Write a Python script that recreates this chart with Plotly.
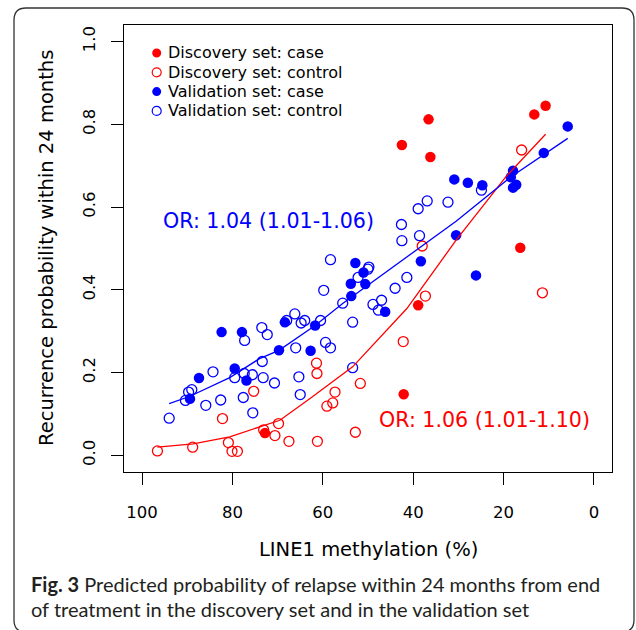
import plotly.graph_objects as go

# ---------------- data ----------------
disc_case_x = [72.8, 42.1, 36.6, 42.5, 36.2, 10.7, 13.2, 16.3, 38.9]
disc_case_p = [0.054, 0.148, 0.812, 0.750, 0.721, 0.845, 0.824, 0.502, 0.363]

disc_ctrl_x = [96.6, 88.8, 80.9, 80.1, 78.9, 82.2, 75.3, 73.1, 70.6, 69.8, 67.5, 61.2,
               61.4, 61.3, 59.1, 57.8, 57.3, 52.8, 51.7, 42.2, 38.0, 37.3, 16.0, 11.4]
disc_ctrl_p = [0.011, 0.020, 0.031, 0.010, 0.010, 0.089, 0.155, 0.062, 0.048, 0.077, 0.034, 0.034,
               0.223, 0.198, 0.119, 0.127, 0.153, 0.056, 0.174, 0.275, 0.506, 0.385, 0.738, 0.393]

val_case_x = [89.4, 87.4, 82.4, 77.9, 79.5, 76.9, 69.7, 68.4, 62.7, 61.7, 53.8, 53.7, 52.8, 51.0,
              50.6, 46.2, 38.3, 30.9, 30.5, 27.9, 26.1, 24.7, 17.9, 18.4, 17.9, 17.2, 11.1, 5.8]
val_case_p = [0.137, 0.187, 0.298, 0.298, 0.210, 0.181, 0.254, 0.322, 0.253, 0.314, 0.415, 0.385,
              0.465, 0.442, 0.414, 0.347, 0.469, 0.667, 0.532, 0.659, 0.435, 0.653, 0.688, 0.672,
              0.647, 0.654, 0.731, 0.795]

val_ctrl_x = [94.0, 90.4, 89.7, 89.0, 85.9, 84.3, 82.6, 77.6, 77.3, 79.5, 77.4, 75.6, 75.5, 73.5,
              72.3, 73.4, 73.2, 70.7, 68.0, 66.2, 66.0, 65.3, 65.0, 64.8, 64.0, 60.5, 59.8, 59.4,
              58.3, 58.3, 55.6, 53.4, 53.4, 52.2, 50.0, 49.8, 48.9, 47.7, 47.0, 44.0, 42.5, 42.6,
              41.4, 38.9, 38.6, 36.9, 32.3, 24.9]
val_ctrl_p = [0.090, 0.133, 0.153, 0.159, 0.121, 0.202, 0.134, 0.140, 0.278, 0.188, 0.198, 0.195,
              0.103, 0.309, 0.292, 0.227, 0.188, 0.175, 0.326, 0.342, 0.260, 0.190, 0.147, 0.320,
              0.326, 0.326, 0.399, 0.273, 0.260, 0.473, 0.368, 0.322, 0.212, 0.430, 0.450, 0.455,
              0.365, 0.351, 0.375, 0.404, 0.519, 0.558, 0.430, 0.596, 0.531, 0.615, 0.612, 0.641]

# fitted curves
disc_fit_x = [96.6, 88.7, 80.6, 74.0, 69.5, 62.9, 53.4, 41.4, 30.5, 19.5, 10.7]
disc_fit_p = [0.020, 0.028, 0.045, 0.068, 0.085, 0.137, 0.214, 0.355, 0.520, 0.673, 0.776]

val_fit_x = [94.0, 89.4, 80.6, 74.0, 69.7, 61.7, 55.6, 45.3, 40.8, 30.5, 18.4, 5.8]
val_fit_p = [0.125, 0.143, 0.188, 0.234, 0.254, 0.314, 0.367, 0.449, 0.486, 0.566, 0.673, 0.766]

x_ticks = [100, 80, 60, 40, 20, 0]
y_ticks = [0.0, 0.2, 0.4, 0.6, 0.8, 1.0]
y_tick_labels = ["0.0", "0.2", "0.4", "0.6", "0.8", "1.0"]

legend_labels = ["Discovery set: case", "Discovery set: control",
                 "Validation set: case", "Validation set: control"]
or_disc = "OR: 1.06 (1.01-1.10)"
or_val = "OR: 1.04 (1.01-1.06)"
x_title = "LINE1 methylation (%)"
y_title = "Recurrence probability within 24 months"
caption1 = "<b>Fig. 3</b> Predicted probability of relapse within 24 months from end"
caption2 = "of treatment in the discovery set and in the validation set"

# ---------------- style ----------------
RED = "#FF0000"
BLUE = "#0000FF"
FONT = "DejaVu Sans"
W, H = 636, 630
L, R, T, B = 124, 24, 25, 158
PW, PH = W - L - R, H - T - B


def px2paper(px, py):
    return (px - L) / PW, (H - B - py) / PH


fig = go.Figure()

fig.add_trace(go.Scatter(x=disc_ctrl_x, y=disc_ctrl_p, mode="markers", name=legend_labels[1],
                         marker=dict(symbol="circle-open", size=10, color=RED, line=dict(width=1.3, color=RED))))
fig.add_trace(go.Scatter(x=val_ctrl_x, y=val_ctrl_p, mode="markers", name=legend_labels[3],
                         marker=dict(symbol="circle-open", size=10, color=BLUE, line=dict(width=1.3, color=BLUE))))
fig.add_trace(go.Scatter(x=disc_case_x, y=disc_case_p, mode="markers", name=legend_labels[0],
                         marker=dict(symbol="circle", size=10.5, color=RED, line=dict(width=0))))
fig.add_trace(go.Scatter(x=val_case_x, y=val_case_p, mode="markers", name=legend_labels[2],
                         marker=dict(symbol="circle", size=10.5, color=BLUE, line=dict(width=0))))
fig.add_trace(go.Scatter(x=disc_fit_x, y=disc_fit_p, mode="lines", name="fit discovery",
                         line=dict(color=RED, width=1.3)))
fig.add_trace(go.Scatter(x=val_fit_x, y=val_fit_p, mode="lines", name="fit validation",
                         line=dict(color=BLUE, width=1.3)))

fig.update_traces(showlegend=False, hoverinfo="skip")

annotations = []
shapes = []

# legend (drawn manually to match R layout)
leg_colors = [RED, RED, BLUE, BLUE]
leg_filled = [True, False, True, False]
leg_rows_px = [53.0, 72.3, 91.6, 110.9]
for lab, col, filled, ry in zip(legend_labels, leg_colors, leg_filled, leg_rows_px):
    ax, ay = px2paper(156.7, ry)
    shapes.append(dict(type="circle", xref="paper", yref="paper", xsizemode="pixel", ysizemode="pixel",
                       xanchor=ax, yanchor=ay, x0=-4.5, x1=4.5, y0=-4.5, y1=4.5,
                       line=dict(color=col, width=0 if filled else 1.2),
                       fillcolor=col if filled else "rgba(0,0,0,0)"))
    tx, ty = px2paper(166.0, ry)
    annotations.append(dict(text=lab, xref="paper", yref="paper", x=tx, y=ty, xanchor="left",
                            yanchor="middle", showarrow=False, font=dict(family=FONT, size=16, color="black")))

# OR texts
annotations.append(dict(text=or_val, x=72.0, y=0.566, xref="x", yref="y", showarrow=False,
                        font=dict(family=FONT, size=20.6, color=BLUE)))
annotations.append(dict(text=or_disc, x=24.3, y=0.085, xref="x", yref="y", showarrow=False,
                        font=dict(family=FONT, size=20.6, color=RED)))

# axis titles
annotations.append(dict(text=x_title, xref="paper", yref="paper", x=0.5, y=0, yanchor="middle",
                        yshift=-(549 - (H - B)), showarrow=False, font=dict(family=FONT, size=19.5, color="black")))
annotations.append(dict(text=y_title, xref="paper", yref="paper", x=0, y=0.5, xanchor="center",
                        xshift=-(L - 46.5), textangle=-90, showarrow=False,
                        font=dict(family=FONT, size=19.5, color="black")))

# caption
annotations.append(dict(text=caption1, xref="paper", yref="paper", x=0, y=0, xanchor="left", yanchor="middle",
                        xshift=-(L - 29), yshift=-(584 - (H - B)), showarrow=False,
                        font=dict(family="Lato", size=20, color="#231F20")))
annotations.append(dict(text=caption2, xref="paper", yref="paper", x=0, y=0, xanchor="left", yanchor="middle",
                        xshift=-(L - 29), yshift=-(609 - (H - B)), showarrow=False,
                        font=dict(family="Lato", size=20, color="#231F20")))

# rounded outer frame (bottom edge just outside the page, as in the reference)
x0p, y0p = 14, 8
x1p, y1p = 634, 632
rr = 12


def P(px, py):
    a, b = px2paper(px, py)
    return f"{a:.5f},{b:.5f}"


path = (f"M {P(x0p + rr, y0p)} L {P(x1p - rr, y0p)} Q {P(x1p, y0p)} {P(x1p, y0p + rr)} "
        f"L {P(x1p, y1p - rr)} Q {P(x1p, y1p)} {P(x1p - rr, y1p)} "
        f"L {P(x0p + rr, y1p)} Q {P(x0p, y1p)} {P(x0p, y1p - rr)} "
        f"L {P(x0p, y0p + rr)} Q {P(x0p, y0p)} {P(x0p + rr, y0p)} Z")
shapes.append(dict(type="path", xref="paper", yref="paper", path=path,
                   line=dict(color="#333333", width=1.3), layer="below"))

fig.update_layout(
    width=W, height=H,
    margin=dict(l=L, r=R, t=T, b=B, pad=0),
    paper_bgcolor="white", plot_bgcolor="white",
    showlegend=False,
    annotations=annotations,
    shapes=shapes,
    font=dict(family=FONT, color="black"),
    xaxis=dict(range=[104, -4], tickvals=x_ticks, ticks="outside", ticklen=12, tickwidth=1,
               tickcolor="black", showline=True, linecolor="black", linewidth=1, mirror=True,
               showgrid=False, zeroline=False, tickfont=dict(family=FONT, size=16.5, color="black"),
               ticklabelstandoff=13),
    yaxis=dict(range=[-0.04, 1.04], tickvals=y_ticks, ticktext=y_tick_labels, ticks="outside",
               ticklen=12, tickwidth=1, tickcolor="black", showline=True, linecolor="black", linewidth=1,
               mirror=True, showgrid=False, zeroline=False, tickangle=-90,
               tickfont=dict(family=FONT, size=16.5, color="black"), ticklabelstandoff=9),
)

fig.write_html("out.html", config={"displayModeBar": False},
               post_script="document.body.style.margin='0';document.body.style.overflow='hidden';")
